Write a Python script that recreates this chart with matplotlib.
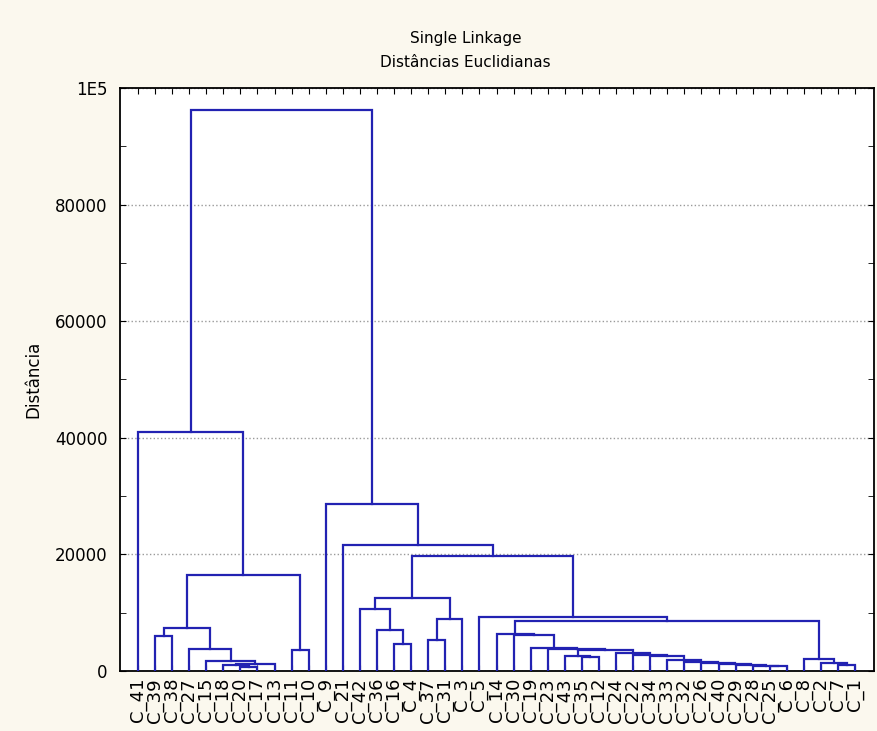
import matplotlib.pyplot as plt

# leaf order along the x axis
leaves = ["C_41", "C_39", "C_38", "C_27", "C_15", "C_18", "C_20", "C_17", "C_13",
          "C_11", "C_10", "C_9", "C_21", "C_42", "C_36", "C_16", "C_4", "C_37",
          "C_31", "C_3", "C_5", "C_14", "C_30", "C_19", "C_23", "C_43", "C_35",
          "C_12", "C_24", "C_22", "C_34", "C_33", "C_32", "C_26", "C_40", "C_29",
          "C_28", "C_25", "C_6", "C_8", "C_2", "C_7", "C_1"]

# each join links two clusters: a leaf name or the index of an earlier join
join_a = ["C_20", "C_18", 1, "C_15", "C_27", "C_39", 5, "C_11", 6, "C_41",
          "C_16", "C_36", "C_42", "C_37", 13, 12,
          "C_25", "C_28", "C_29", "C_40", "C_26", "C_32", "C_33", "C_34", "C_22", "C_24",
          "C_35", "C_43", 27, "C_23", "C_19", "C_30", "C_14",
          "C_7", "C_2", "C_8", 32, "C_5", 15, "C_21", "C_9", 9]
join_b = ["C_17", 0, "C_13", 2, 3, "C_38", 4, "C_10", 7, 8,
          "C_4", 10, 11, "C_31", "C_3", 14,
          "C_6", 16, 17, 18, 19, 20, 21, 22, 23, 24,
          "C_12", 26, 25, 28, 29, 30, 31,
          "C_1", 33, 34, 35, 36, 37, 38, 39, 40]
heights = [700, 1100, 1200, 1700, 3700, 6000, 7300, 3600, 16500, 41000,
           4700, 7000, 10600, 5300, 9000, 12600,
           850, 900, 1000, 1150, 1300, 1500, 1800, 2600, 2800, 3100,
           2400, 2600, 3600, 3800, 4000, 6200, 6300,
           1100, 1400, 2000, 8600, 9200, 19700, 21600, 28700, 96200]

line_color = "#2222b2"
bg = "#fbf8ee"

fig = plt.figure(figsize=(8.78, 7.31), dpi=100, facecolor=bg)
ax = fig.add_axes([0.1367, 0.0821, 0.8587, 0.7975])
ax.set_facecolor("white")

pos = {}
def node(c):
    if isinstance(c, str):
        return leaves.index(c), 0
    return pos[c]

for i in range(len(heights)):
    xa, ya = node(join_a[i])
    xb, yb = node(join_b[i])
    h = heights[i]
    ax.plot([xa, xa, xb, xb], [ya, h, h, yb], color=line_color, lw=1.6,
            solid_joinstyle="miter", zorder=3)
    pos[i] = ((xa + xb) / 2, h)

ax.set_xlim(-1.05, 43.1)
ax.set_ylim(0, 100000)
ax.set_xticks(range(len(leaves)))
ax.set_xticklabels(leaves, rotation=90, fontsize=13, va="top")
ax.set_yticks([0, 20000, 40000, 60000, 80000, 100000])
ax.set_yticklabels(["0", "20000", "40000", "60000", "80000", "1E5"], fontsize=12)
ax.set_yticks(range(0, 100001, 10000), minor=True)
ax.tick_params(axis="y", which="both", direction="in", right=True, length=4, pad=9)
ax.tick_params(axis="x", direction="in", top=True, length=4, pad=5)
ax.yaxis.grid(True, which="major", linestyle=":", color="#9a9a9a", lw=1)
ax.set_axisbelow(True)
for s in ax.spines.values():
    s.set_linewidth(1.3)

ax.set_ylabel("Distância", fontsize=12, labelpad=9)
fig.text(0.53, 0.948, "Single Linkage", ha="center", va="center", fontsize=11)
fig.text(0.53, 0.915, "Distâncias Euclidianas", ha="center", va="center", fontsize=11)

fig.savefig("out.png", dpi=100, facecolor=bg)
